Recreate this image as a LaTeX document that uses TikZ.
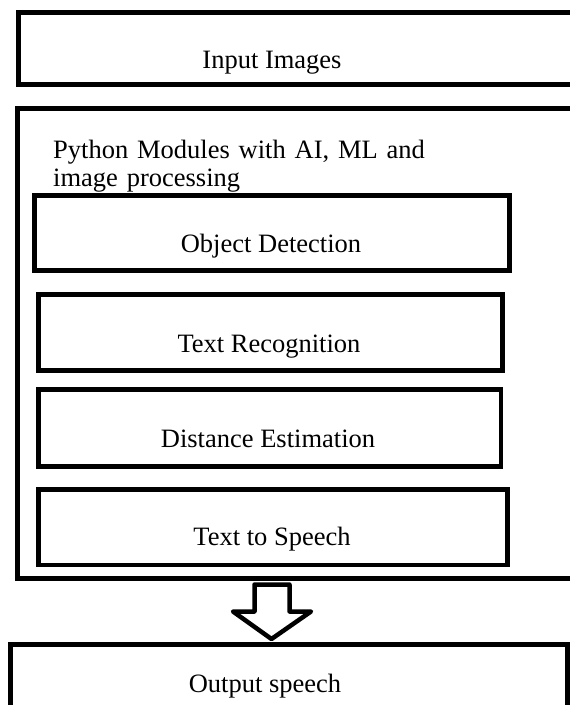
\documentclass[tikz,border=0pt]{standalone}
\usepackage{fontspec}
\setmainfont{Liberation Serif}
\usetikzlibrary{fit}
\begin{document}
\begin{tikzpicture}[x=1pt,y=-1pt,
  box/.style={draw=black, line width=4.8pt, inner sep=0pt, fit=#1},
  lbl/.style={anchor=base, inner sep=0pt, font=\fontsize{26.5}{28}\selectfont},
  blockarrow/.style={draw=black, line width=4.5pt, line join=round, fill=white}]
\useasboundingbox (0,0) rectangle (570,705);
\clip (0,0) rectangle (570,705);
\fill[white] (0,0) rectangle (570,705);
% corner coordinates
\coordinate (in1) at (18.5,12.5);   \coordinate (in2) at (590,84.5);
\coordinate (py1) at (17.5,108.5);  \coordinate (py2) at (590,578.5);
\coordinate (od1) at (34.5,195.5);  \coordinate (od2) at (509.5,270.5);
\coordinate (tr1) at (38.5,294.5);  \coordinate (tr2) at (502.5,370.5);
\coordinate (de1) at (38.5,389.5);  \coordinate (de2) at (501,466.5);
\coordinate (ts1) at (38.5,489.5);  \coordinate (ts2) at (507.5,565);
\coordinate (out1) at (10.5,644.5); \coordinate (out2) at (567.5,712);
% boxes
\node[box={(in1)(in2)}] (inbox) {};
\node[box={(py1)(py2)}] (pybox) {};
\node[box={(od1)(od2)}] (odbox) {};
\node[box={(tr1)(tr2)}] (trbox) {};
\node[box={(de1)(de2)}] (debox) {};
\node[box={(ts1)(ts2)}] (tsbox) {};
\node[box={(out1)(out2)}] (outbox) {};
% labels
\node[lbl] (inlbl) at (272,68) {Input Images};
\node[lbl, anchor=base west, text width=389pt, align=left] (pylbl) at (53,158)
  {\makebox[389pt][s]{Python Modules with AI, ML and}\\image processing};
\node[lbl] (odlbl) at (271,252) {Object Detection};
\node[lbl] (trlbl) at (269,352) {Text Recognition};
\node[lbl] (delbl) at (268,447) {Distance Estimation};
\node[lbl] (tslbl) at (272,545) {Text to Speech};
\node[lbl] (outlbl) at (265,692) {Output speech};
% block arrow
\coordinate (a1) at (254.5,584.5);
\coordinate (a2) at (289.5,584.5);
\coordinate (a3) at (289.5,611.5);
\coordinate (a4) at (311,611.5);
\coordinate (tip) at (271.5,639);
\coordinate (a6) at (233,611.5);
\coordinate (a7) at (254.5,611.5);
\draw[blockarrow] (a1) -- (a2) -- (a3) -- (a4) -- (tip) -- (a6) -- (a7) -- cycle;
\end{tikzpicture}
\end{document}
